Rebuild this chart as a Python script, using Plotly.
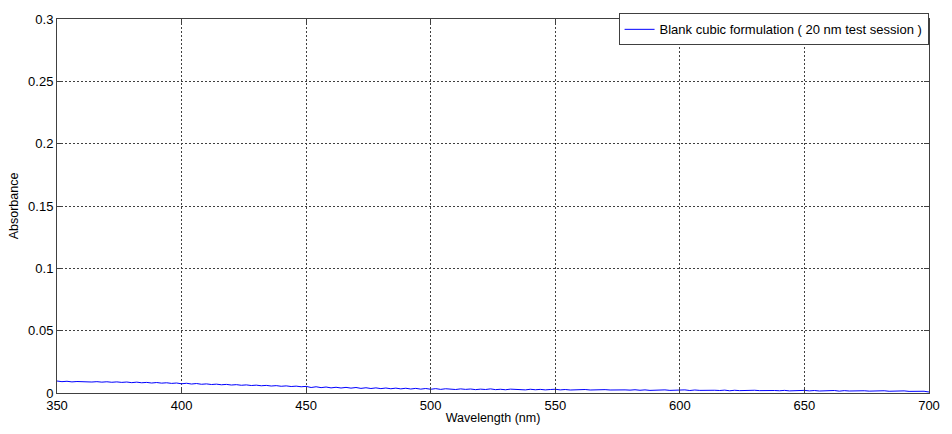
import plotly.graph_objects as go

wavelength = list(range(350, 701, 2))
absorbance = [
    0.0096, 0.0091, 0.0094, 0.0089, 0.0092, 0.0090, 0.0093, 0.0088, 0.0091, 0.0087, 0.0090, 0.0086, 0.0089, 0.0085, 0.0088, 0.0083, 0.0087, 0.0082, 0.0085, 0.0080, 0.0084, 0.0079, 0.0082, 0.0077, 0.0080,
    0.0074, 0.0078, 0.0072, 0.0076, 0.0070, 0.0073, 0.0068, 0.0071, 0.0066, 0.0069, 0.0064, 0.0067, 0.0062, 0.0065, 0.0060, 0.0063, 0.0058, 0.0061, 0.0056, 0.0059, 0.0054, 0.0057, 0.0052, 0.0055, 0.0050,
    0.0053, 0.0044, 0.0050, 0.0043, 0.0048, 0.0041, 0.0046, 0.0040, 0.0045, 0.0039, 0.0044, 0.0037, 0.0042, 0.0036, 0.0041, 0.0035, 0.0040, 0.0034, 0.0039, 0.0033, 0.0038, 0.0032, 0.0037, 0.0031, 0.0036,
    0.0030, 0.0035, 0.0029, 0.0034, 0.0031, 0.0028, 0.0033, 0.0029, 0.0032, 0.0027, 0.0031, 0.0028, 0.0033, 0.0027, 0.0030, 0.0026, 0.0031, 0.0027, 0.0029, 0.0025, 0.0030, 0.0026, 0.0029, 0.0025, 0.0028,
    0.0030, 0.0025, 0.0028, 0.0024, 0.0027, 0.0025, 0.0028, 0.0024, 0.0026, 0.0023, 0.0027, 0.0024, 0.0026, 0.0022, 0.0025, 0.0023, 0.0026, 0.0022, 0.0025, 0.0021, 0.0024, 0.0022, 0.0025, 0.0021, 0.0024,
    0.0022, 0.0025, 0.0020, 0.0024, 0.0021, 0.0023, 0.0019, 0.0022, 0.0020, 0.0023, 0.0018, 0.0022, 0.0019, 0.0021, 0.0018, 0.0022, 0.0019, 0.0021, 0.0017, 0.0020, 0.0018, 0.0021, 0.0017, 0.0020, 0.0018,
    0.0021, 0.0017, 0.0020, 0.0016, 0.0019, 0.0017, 0.0020, 0.0015, 0.0019, 0.0016, 0.0018, 0.0014, 0.0018, 0.0015, 0.0017, 0.0013, 0.0018, 0.0014, 0.0016, 0.0012, 0.0017, 0.0013, 0.0015, 0.0011, 0.0014,
    0.0008,
]
series_name = "Blank cubic formulation ( 20 nm test session )"
x_ticks = [350, 400, 450, 500, 550, 600, 650, 700]
y_ticks = [0, 0.05, 0.1, 0.15, 0.2, 0.25, 0.3]
y_tick_text = ["0", "0.05", "0.1", "0.15", "0.2", "0.25", "0.3"]

fig = go.Figure()
fig.add_trace(go.Scatter(
    x=wavelength, y=absorbance, mode="lines", name=series_name,
    line=dict(color="#0000ff", width=1),
))

axis_common = dict(
    showline=True, linecolor="#404040", linewidth=1, mirror="ticks",
    ticks="inside", ticklen=5, tickcolor="#404040",
    showgrid=True, gridcolor="#404040", griddash="2px,2px", gridwidth=1,
    zeroline=False, tickfont=dict(size=13, color="#000000"),
)

fig.update_layout(
    width=952, height=434,
    margin=dict(l=57, r=15, t=13, b=37),
    paper_bgcolor="white", plot_bgcolor="white",
    font=dict(family="Liberation Sans, Arial, sans-serif", color="#000000", size=13),
    showlegend=True,
    legend=dict(
        x=0.9995, y=1.015, xanchor="right", yanchor="top",
        bgcolor="white", bordercolor="#404040", borderwidth=1,
        font=dict(size=13), tracegroupgap=0,
    ),
    xaxis=dict(
        range=[350, 700], tickvals=x_ticks, ticktext=[str(v) for v in x_ticks],
        title=dict(text="Wavelength (nm)", standoff=1, font=dict(size=12.5)),
        **axis_common,
    ),
    yaxis=dict(
        range=[0, 0.3], tickvals=y_ticks, ticktext=y_tick_text,
        title=dict(text="Absorbance", standoff=6, font=dict(size=12.5)),
        **axis_common,
    ),
)

fig.write_html("out.html")
